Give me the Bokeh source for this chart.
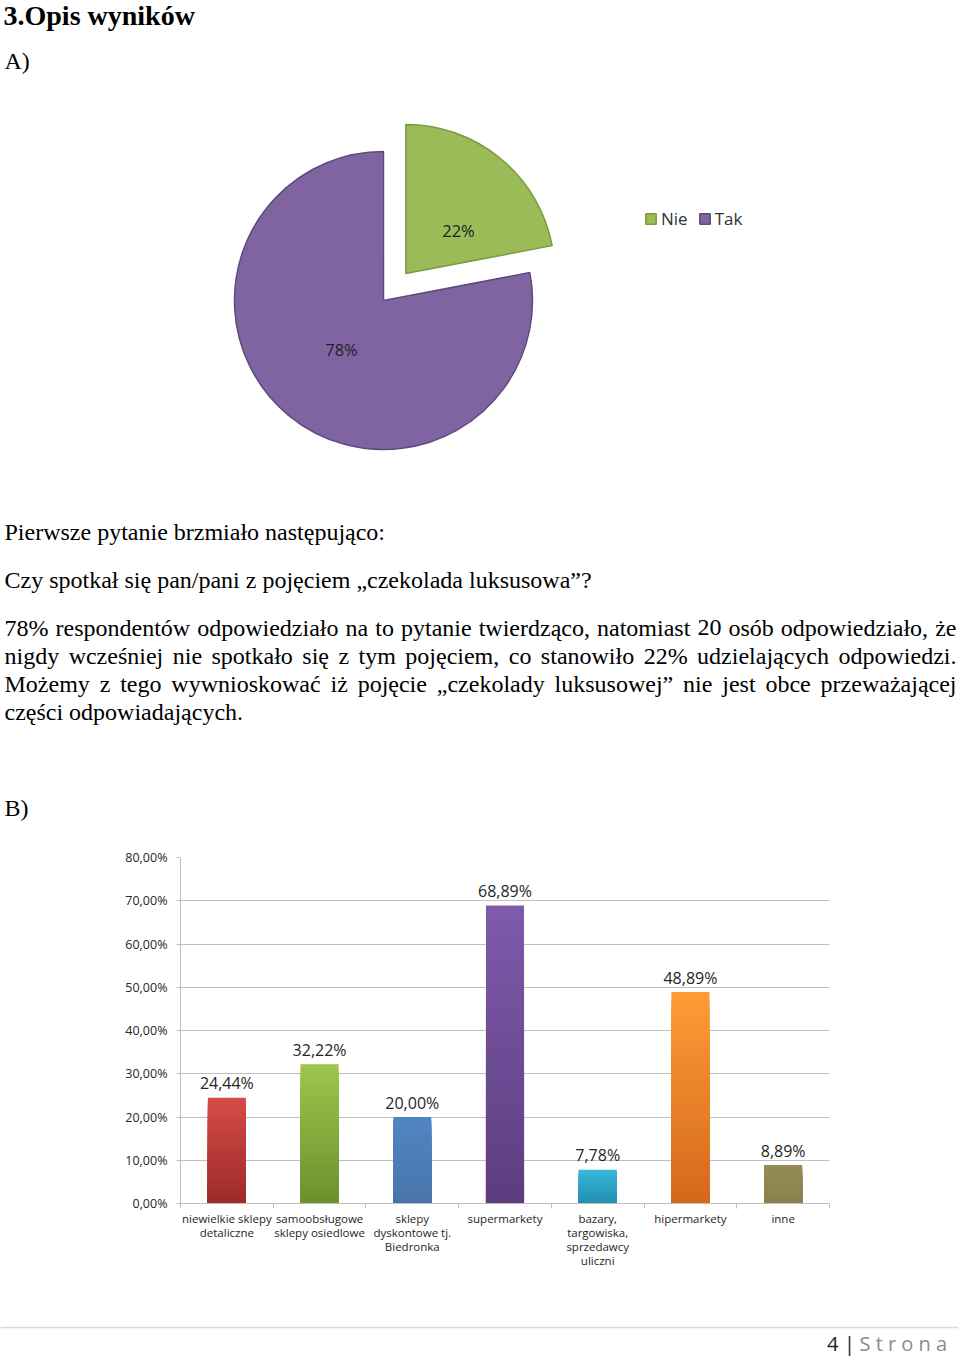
import math
from bokeh.plotting import figure
from bokeh.models import Range1d, FixedTicker, Legend, LegendItem, ColumnDataSource
from bokeh.layouts import column
from bokeh.core.properties import value
from bokeh.embed import file_html
from bokeh.resources import INLINE

# ---------------- data ----------------
pie_labels = ["Nie", "Tak"]
pie_values = [22, 78]
pie_colors = ["#9BBB59", "#8064A2"]
pie_edges = ["#7A9940", "#5E4A7E"]

categories = [
    "niewielkie sklepy detaliczne",
    "samoobsługowe sklepy osiedlowe",
    "sklepy dyskontowe tj. Biedronka",
    "supermarkety",
    "bazary, targowiska, sprzedawcy uliczni",
    "hipermarkety",
    "inne",
]
category_tick_labels = [
    "niewielkie sklepy\ndetaliczne",
    "samoobsługowe\nsklepy osiedlowe",
    "sklepy\ndyskontowe tj.\nBiedronka",
    "supermarkety",
    "bazary,\ntargowiska,\nsprzedawcy\nuliczni",
    "hipermarkety",
    "inne",
]
shares = [24.44, 32.22, 20.00, 68.89, 7.78, 48.89, 8.89]
bar_top_colors = ["#D44B47", "#9DC54B", "#5185C2", "#7E5AAA", "#37B7DC", "#FF9A36", "#958B56"]
bar_bottom_colors = ["#9C2A28", "#6C8E2E", "#4774AA", "#5B3D7E", "#218DAA", "#D2671B", "#8A804C"]
y_ticks = [0, 10, 20, 30, 40, 50, 60, 70, 80]
y_tick_labels = ["0,00%", "10,00%", "20,00%", "30,00%", "40,00%", "50,00%", "60,00%", "70,00%", "80,00%"]

SERIF = "Liberation Serif"
SANS = "Open Sans"

W = 960
TOP_H = 835
BAR_H = 465
FOOT_H = 56
SHIFT = 10  # baseline correction


def py(p):
    return TOP_H - p


def blank(h):
    f = figure(width=W, height=h, x_range=Range1d(0, W), y_range=Range1d(0, h),
               output_backend="svg", toolbar_location=None,
               x_axis_type=None, y_axis_type=None, min_border=0)
    f.frame_align = False
    f.outline_line_color = None
    f.xgrid.visible = False
    f.ygrid.visible = False
    f.background_fill_color = "white"
    f.border_fill_color = "white"
    return f


# ---------------- top: header, pie, text ----------------
top = blank(TOP_H)

def txt(fig, x, y, s, size, font=SERIF, style="normal", color="black", align="left", baseline="alphabetic"):
    fig.text(x=[x], y=[y], text=[s], text_font=value(font), text_font_size=size,
             text_font_style=style, text_color=color, text_align=align, text_baseline=baseline)

txt(top, 3, py(25 - SHIFT), "3.Opis wyników", "28px", style="bold")
txt(top, 4, py(70 - SHIFT), "A)", "24px")

# pie
cx, cy, r = 383.0, py(300), 149.0
explode = [35.0, 0.0]
total = float(sum(pie_values))
starts, ends, xs_c, ys_c = [], [], [], []
cum = 0.0
for v, d in zip(pie_values, explode):
    a0 = 90.0 - cum / total * 360.0          # clockwise from 12 o'clock
    a1 = 90.0 - (cum + v) / total * 360.0
    mid = math.radians((a0 + a1) / 2.0)
    xs_c.append(cx + d * math.cos(mid))
    ys_c.append(cy + d * math.sin(mid))
    starts.append(math.radians(a1))
    ends.append(math.radians(a0))
    cum += v
pie_src = ColumnDataSource(dict(x=xs_c, y=ys_c, s=starts, e=ends, c=pie_colors, lc=pie_edges, lab=pie_labels))
wr = top.wedge(x="x", y="y", radius=r, start_angle="s", end_angle="e", fill_color="c",
               line_color="lc", line_width=1.5, source=pie_src)
pct = [f"{v}%" for v in pie_values]
txt(top, 458, py(230), pct[0], "16.5px", font=SANS, color="#1F1F1F", align="center", baseline="middle")
txt(top, 341, py(349), pct[1], "16.5px", font=SANS, color="#1F1F1F", align="center", baseline="middle")

legend = Legend(items=[LegendItem(label=pie_labels[0], renderers=[wr], index=0),
                       LegendItem(label=pie_labels[1], renderers=[wr], index=1)],
                orientation="horizontal", location=(644, TOP_H - 230),
                padding=0, margin=0, spacing=10, label_standoff=4,
                glyph_width=13, glyph_height=13, label_height=20,
                label_text_font=SANS, label_text_font_size="17px", label_text_color="#333333",
                border_line_color=None, background_fill_alpha=0)
top.add_layout(legend, "center")

# text block
# approximate Times advance widths (1/1000 em) used only to justify lines
TW = {" ": 250, "%": 833, ",": 250, ".": 250, ":": 278, "„": 444, "”": 444, "?": 444, "/": 278,
      "A": 722, "B": 667, "C": 667, "M": 889, "P": 556, "W": 944,
      "a": 444, "b": 500, "c": 444, "d": 500, "e": 444, "f": 333, "g": 500, "h": 500, "i": 278,
      "j": 278, "k": 500, "l": 278, "m": 778, "n": 500, "o": 500, "p": 500, "q": 500, "r": 333,
      "s": 389, "t": 278, "u": 500, "v": 500, "w": 722, "x": 500, "y": 500, "z": 444,
      "ą": 444, "ę": 444, "ó": 500, "ś": 389, "ć": 444, "ł": 278, "ż": 444, "ź": 444, "ń": 500}


def width(s, size):
    return sum(TW.get(ch, 500) for ch in s) * size / 1000.0


def justified(fig, line, y, x0, x1, size):
    words = line.split(" ")
    ws = [width(w, size) for w in words]
    gap = (x1 - x0 - sum(ws)) / (len(words) - 1)
    x = x0
    for i, (w, wd) in enumerate(zip(words, ws)):
        if i == len(words) - 1:
            txt(fig, x1, y, w, f"{size}px", align="right")
        else:
            txt(fig, x, y, w, f"{size}px")
        x += wd + gap

txt(top, 4, py(541 - SHIFT), "Pierwsze pytanie brzmiało następująco:", "24px")
txt(top, 4, py(589 - SHIFT), "Czy spotkał się pan/pani z pojęciem „czekolada luksusowa”?", "24px")
para = [
    "78% respondentów odpowiedziało na to pytanie twierdząco, natomiast 20 osób odpowiedziało, że",
    "nigdy wcześniej nie spotkało się z tym pojęciem, co stanowiło 22% udzielających odpowiedzi.",
    "Możemy z tego wywnioskować iż pojęcie „czekolady luksusowej” nie jest obce przeważającej",
    "części odpowiadających.",
]
for i, line in enumerate(para):
    yb = py(637 - SHIFT + 28 * i)
    if i < len(para) - 1:
        justified(top, line, yb, 4, 956, 24)
    else:
        txt(top, 4, yb, line, "24px")
txt(top, 4, py(817 - SHIFT), "B)", "24px")

# ---------------- bar chart ----------------
xs = [i + 1 for i in range(len(categories))]
bar = figure(width=W, height=BAR_H, x_range=Range1d(0.5, len(categories) + 0.5),
             y_range=Range1d(0, 80), output_backend="svg", toolbar_location=None,
             min_border_left=180, min_border_right=131, min_border_top=22, min_border_bottom=97)
bar.frame_align = False
bar.outline_line_color = None
bar.background_fill_color = "white"
bar.border_fill_color = "white"


def hex2rgb(h):
    h = h.lstrip("#")
    return tuple(int(h[i:i + 2], 16) for i in (0, 2, 4))


def mix(c0, c1, t):
    a, b = hex2rgb(c0), hex2rgb(c1)
    return "#%02x%02x%02x" % tuple(int(round(a[k] + (b[k] - a[k]) * t)) for k in range(3))

N = 30
gx, gtop, gcol = [], [], []
for k in range(N, 0, -1):
    frac = k / N
    for x, v, ct, cb in zip(xs, shares, bar_top_colors, bar_bottom_colors):
        gx.append(x)
        gtop.append(v * frac)
        gcol.append(mix(cb, ct, frac))
bar.vbar(x=gx, top=gtop, bottom=0, width=0.41, fill_color=gcol, line_color=None)

labels = [f"{v:.2f}".replace(".", ",") + "%" for v in shares]
bar.text(x=xs, y=shares, text=labels, text_align="center", text_baseline="middle",
         y_offset=-14.5, text_font=value(SANS), text_font_size="16px", text_color="#262626")

GRID = "#BFBFBF"
bar.xgrid.grid_line_color = None
bar.ygrid.grid_line_color = GRID
bar.ygrid.grid_line_width = 1

ya = bar.yaxis[0]
ya.ticker = FixedTicker(ticks=y_ticks)
ya.major_label_overrides = {t: l for t, l in zip(y_ticks, y_tick_labels)}
ya.axis_line_color = GRID
ya.major_tick_line_color = GRID
ya.major_tick_out = 4
ya.major_tick_in = 0
ya.minor_tick_line_color = None
ya.major_label_standoff = 9
ya.major_label_text_font = SANS
ya.major_label_text_font_size = "12.5px"
ya.major_label_text_color = "#262626"

xa = bar.xaxis[0]
xa.ticker = FixedTicker(ticks=xs, minor_ticks=[i + 0.5 for i in range(len(categories) + 1)])
xa.major_label_overrides = {x: l for x, l in zip(xs, category_tick_labels)}
xa.axis_line_color = GRID
xa.major_tick_line_color = None
xa.major_tick_out = 5
xa.minor_tick_line_color = GRID
xa.minor_tick_out = 5
xa.minor_tick_in = 0
xa.major_label_standoff = 2
xa.major_label_text_font = SANS
xa.major_label_text_font_size = "11.5px"
xa.major_label_text_color = "#262626"
xa.major_label_text_line_height = 0.95

# ---------------- footer ----------------
foot = blank(FOOT_H)
foot.segment(x0=[0], y0=[FOOT_H - 27], x1=[958], y1=[FOOT_H - 27], line_color="#D9D9D9", line_width=1.5)
txt(foot, 838, FOOT_H - 43, "4", "20px", font=SANS, color="#222222", align="right", baseline="middle")
txt(foot, 849, FOOT_H - 43, "|", "20px", font=SANS, color="#222222", align="center", baseline="middle")
txt(foot, 859, FOOT_H - 43, "S t r o n a", "20px", font=SANS, color="#8C8C8C", align="left", baseline="middle")

layout = column(top, bar, foot, spacing=0)
open("out.html", "w").write(file_html(layout, INLINE))
